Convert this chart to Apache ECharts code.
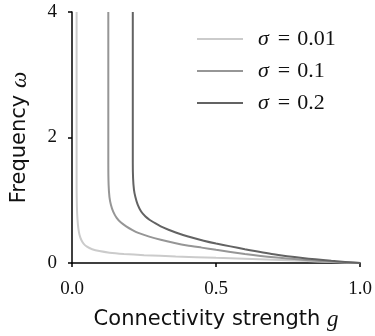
<!DOCTYPE html>
<html>
<head>
<meta charset="utf-8">
<script src="https://cdn.jsdelivr.net/npm/echarts@6/dist/echarts.min.js"></script>
<style>
  html, body { margin: 0; padding: 0; background: #fff; }
  #chart { width: 375px; height: 336px; }
</style>
</head>
<body>
<div id="chart"></div>
<script>
// Oscillation frequency ω against connectivity strength g, one curve per noise level σ
const sigmaLabels = ['0.01', '0.1', '0.2'];
const lineColors = ['#cbcbcb', '#969696', '#636363'];

const gSigma001 = [0.016, 0.016, 0.017, 0.019, 0.022, 0.026, 0.032, 0.040, 0.052, 0.070, 0.095, 0.130, 0.180, 0.250, 0.360, 0.500, 0.600, 0.700, 0.800, 0.900, 1.000];
const wSigma001 = [4.00, 1.20, 0.90, 0.70, 0.55, 0.45, 0.37, 0.31, 0.26, 0.22, 0.19, 0.165, 0.145, 0.125, 0.105, 0.082, 0.066, 0.050, 0.034, 0.017, 0.0];

const gSigma01 = [0.126, 0.126, 0.127, 0.130, 0.135, 0.143, 0.155, 0.170, 0.188, 0.210, 0.230, 0.268, 0.308, 0.360, 0.400, 0.450, 0.500, 0.600, 0.700, 0.800, 0.900, 1.000];
const wSigma01 = [4.00, 1.60, 1.25, 1.05, 0.93, 0.82, 0.72, 0.645, 0.585, 0.525, 0.48, 0.42, 0.37, 0.315, 0.28, 0.245, 0.21, 0.145, 0.09, 0.05, 0.02, 0.0];

const gSigma02 = [0.211, 0.211, 0.212, 0.215, 0.220, 0.228, 0.240, 0.255, 0.270, 0.290, 0.308, 0.335, 0.360, 0.400, 0.457, 0.500, 0.550, 0.600, 0.700, 0.800, 0.900, 1.000];
const wSigma02 = [4.00, 1.60, 1.35, 1.17, 1.05, 0.93, 0.82, 0.74, 0.685, 0.63, 0.585, 0.53, 0.485, 0.425, 0.355, 0.31, 0.265, 0.22, 0.14, 0.08, 0.035, 0.0];

const xTicks = [0, 0.5, 1.0];
const yTicks = [0, 2, 4];

const gValues = [gSigma001, gSigma01, gSigma02];
const wValues = [wSigma001, wSigma01, wSigma02];

const serif = '"Liberation Serif", "DejaVu Serif", serif';
const sans = '"DejaVu Sans", sans-serif';

const series = sigmaLabels.map((s, i) => ({
  name: 'σ = ' + s,
  type: 'line',
  showSymbol: false,
  symbol: 'none',
  smooth: 0.2,
  clip: true,
  lineStyle: { color: lineColors[i], width: 2 },
  itemStyle: { color: lineColors[i] },
  data: gValues[i].map((g, k) => [g, wValues[i][k]])
}));

const chart = echarts.init(document.getElementById('chart'), null, { renderer: 'canvas' });
chart.setOption({
  animation: false,
  backgroundColor: '#fff',
  grid: { left: 70, right: 13, top: 12, bottom: 71.5, containLabel: false },
  legend: {
    orient: 'vertical',
    left: 197,
    top: 28,
    padding: 0,
    itemWidth: 46,
    itemHeight: 20,
    itemGap: 10,
    icon: 'path://M0,0H46V2H0Z',
    data: series.map(s => s.name),
    formatter: name => '{s|σ}{e|=}{t|' + name.slice(4) + '}',
    textStyle: {
      lineHeight: 20,
      rich: {
        s: { fontFamily: serif, fontStyle: 'italic', fontSize: 22, color: '#111', padding: [0, 0, 0, 10] },
        e: { fontFamily: serif, fontSize: 22, color: '#111', padding: [0, 7, 0, 9] },
        t: { fontFamily: serif, fontSize: 22, color: '#111' }
      }
    }
  },
  xAxis: {
    type: 'value',
    min: xTicks[0],
    max: xTicks[xTicks.length - 1],
    interval: 0.5,
    name: 'Connectivity strength {g|g}',
    nameLocation: 'middle',
    nameGap: 45,
    nameTextStyle: {
      fontFamily: sans, fontSize: 21, color: '#111',
      rich: { g: { fontFamily: serif, fontStyle: 'italic', fontSize: 23, color: '#111' } }
    },
    axisLine: { show: true, lineStyle: { color: '#000', width: 1.5 } },
    axisTick: { show: true, length: 4, inside: false, lineStyle: { color: '#000', width: 1.5 } },
    axisLabel: { fontFamily: serif, fontSize: 19, color: '#111', margin: 17, formatter: v => v.toFixed(1) },
    splitLine: { show: false }
  },
  yAxis: {
    type: 'value',
    min: yTicks[0],
    max: yTicks[yTicks.length - 1],
    interval: 2,
    name: 'Frequency {w|ω}',
    nameLocation: 'middle',
    nameGap: 41,
    nameTextStyle: {
      fontFamily: sans, fontSize: 21, color: '#111',
      rich: { w: { fontFamily: serif, fontStyle: 'italic', fontSize: 23, color: '#111' } }
    },
    axisLine: { show: true, lineStyle: { color: '#000', width: 1.5 } },
    axisTick: { show: true, length: 4, inside: false, lineStyle: { color: '#000', width: 1.5 } },
    axisLabel: { fontFamily: serif, fontSize: 19, color: '#111', margin: 15 },
    splitLine: { show: false }
  },
  series: series
});
</script>
</body>
</html>
